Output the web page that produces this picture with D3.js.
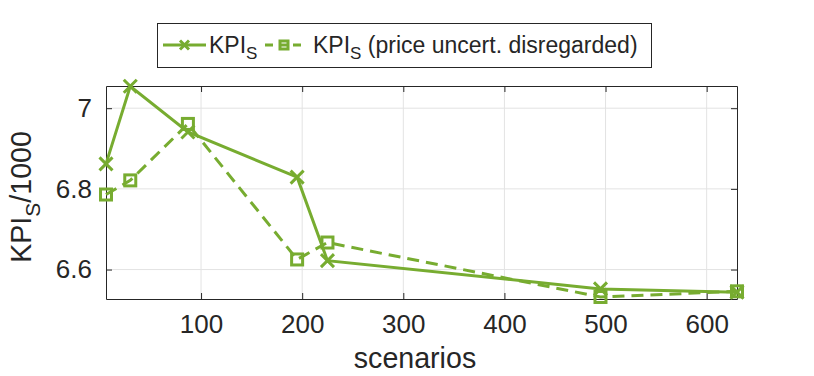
<!DOCTYPE html>
<html>
<head>
<meta charset="utf-8">
<script src="https://cdn.jsdelivr.net/npm/d3@7"></script>
<style>
  body { margin: 0; background: #fff; }
  svg { display: block; font-family: "Liberation Sans", Arial, sans-serif; }
</style>
</head>
<body>
<svg width="814" height="376"></svg>
<script>
// number of scenarios on the x axis
var scenarios = [6, 30, 87, 195, 225, 495, 630];

// KPI_S / 1000, both versions
var kpi = [6.862, 7.0545, 6.941, 6.829, 6.622, 6.552, 6.544];
var kpiNoPrice = [6.786, 6.821, 6.961, 6.625, 6.667, 6.532, 6.546];

var xTicks = [100, 200, 300, 400, 500, 600];
var yTicks = [6.6, 6.8, 7];

var svg = d3.select('svg');
var green = '#77ac30';
var axisColor = '#262626';

//plot box (window.top is reserved, so use other names)
var pL = 106, pR = 737, pT = 86, pB = 299;

var x = d3.scaleLinear().domain([6, 630]).range([pL, pR]);
var y = d3.scaleLinear().domain([6.527, 7.055]).range([pB, pT]);

//grid lines
svg.append('g').selectAll('line')
    .data(xTicks).enter().append('line')
    .attr('x1', d => x(d)).attr('x2', d => x(d))
    .attr('y1', pT).attr('y2', pB)
    .attr('stroke', '#e3e3e3').attr('stroke-width', 1);
svg.append('g').selectAll('line')
    .data(yTicks).enter().append('line')
    .attr('x1', pL).attr('x2', pR)
    .attr('y1', d => y(d)).attr('y2', d => y(d))
    .attr('stroke', '#e3e3e3').attr('stroke-width', 1);

//axes with inward ticks, labels only on bottom and left
var xAxis = svg.append('g').attr('transform', 'translate(0,' + pB + ')')
    .call(d3.axisBottom(x).tickValues(xTicks).tickSizeInner(-6).tickSizeOuter(0).tickPadding(16));
var xTop = svg.append('g').attr('transform', 'translate(0,' + pT + ')')
    .call(d3.axisTop(x).tickValues(xTicks).tickSizeInner(-6).tickSizeOuter(0).tickFormat(''));
var yAxis = svg.append('g').attr('transform', 'translate(' + pL + ',0)')
    .call(d3.axisLeft(y).tickValues(yTicks).tickSizeInner(-6).tickSizeOuter(0).tickPadding(14).tickFormat(d3.format('')));
var yRight = svg.append('g').attr('transform', 'translate(' + pR + ',0)')
    .call(d3.axisRight(y).tickValues(yTicks).tickSizeInner(-6).tickSizeOuter(0).tickFormat(''));

[xAxis, xTop, yAxis, yRight].forEach(function(g){
    g.select('.domain').attr('stroke', axisColor).attr('stroke-width', 1);
    g.selectAll('.tick line').attr('stroke', axisColor);
    g.selectAll('.tick text').attr('fill', axisColor).attr('font-size', 26)
        .attr('font-family', '"Liberation Sans", Arial, sans-serif');
});

//axis labels
svg.append('text')
    .attr('x', 415).attr('y', 368)
    .attr('text-anchor', 'middle').attr('font-size', 28.6).attr('fill', axisColor)
    .text('scenarios');

var yl = svg.append('text')
    .attr('transform', 'translate(31,197) rotate(-90)')
    .attr('text-anchor', 'middle').attr('font-size', 28.6).attr('fill', axisColor);
yl.append('tspan').text('KPI');
yl.append('tspan').attr('dy', 9).attr('font-size', 21).text('S');
yl.append('tspan').attr('dy', -9).text('/1000');

//lines
var line = d3.line().x(d => x(d[0])).y(d => y(d[1]));
var pts1 = scenarios.map((s, i) => [s, kpi[i]]);
var pts2 = scenarios.map((s, i) => [s, kpiNoPrice[i]]);

svg.append('path').datum(pts2).attr('d', line)
    .attr('fill', 'none').attr('stroke', green).attr('stroke-width', 3)
    .attr('stroke-dasharray', '12,7');
svg.append('path').datum(pts1).attr('d', line)
    .attr('fill', 'none').attr('stroke', green).attr('stroke-width', 3);

function crossMark(g, cx, cy, s){
    g.append('path')
        .attr('d', 'M' + (cx - s) + ',' + (cy - s) + 'L' + (cx + s) + ',' + (cy + s) +
                   'M' + (cx - s) + ',' + (cy + s) + 'L' + (cx + s) + ',' + (cy - s))
        .attr('stroke', green).attr('stroke-width', 3).attr('fill', 'none');
}
function squareMark(g, cx, cy, s){
    g.append('rect').attr('x', cx - s).attr('y', cy - s)
        .attr('width', 2 * s).attr('height', 2 * s)
        .attr('fill', 'none').attr('stroke', green).attr('stroke-width', 3);
}

var marks = svg.append('g');
pts2.forEach(d => squareMark(marks, x(d[0]), y(d[1]), 5.5));
pts1.forEach(d => crossMark(marks, x(d[0]), y(d[1]), 6.5));

//legend
var lg = svg.append('g');
lg.append('rect').attr('x', 157.5).attr('y', 23.5).attr('width', 494).attr('height', 44)
    .attr('fill', '#fff').attr('stroke', axisColor).attr('stroke-width', 1);
var ly = 45;
lg.append('line').attr('x1', 163).attr('x2', 206).attr('y1', ly).attr('y2', ly)
    .attr('stroke', green).attr('stroke-width', 3);
crossMark(lg, 184.5, ly, 4.5);
lg.append('line').attr('x1', 265).attr('x2', 302).attr('y1', ly).attr('y2', ly)
    .attr('stroke', green).attr('stroke-width', 3).attr('stroke-dasharray', '8,6');
squareMark(lg, 284, ly, 4);

function legendText(xp, rest){
    var t = lg.append('text').attr('x', xp).attr('y', ly + 8)
        .attr('font-size', 23).attr('fill', axisColor);
    t.append('tspan').text('KPI');
    t.append('tspan').attr('dy', 6).attr('font-size', 17).text('S');
    if (rest) t.append('tspan').attr('dy', -6).text(rest);
}
legendText(209, null);
legendText(313, ' (price uncert. disregarded)');
</script>
</body>
</html>
